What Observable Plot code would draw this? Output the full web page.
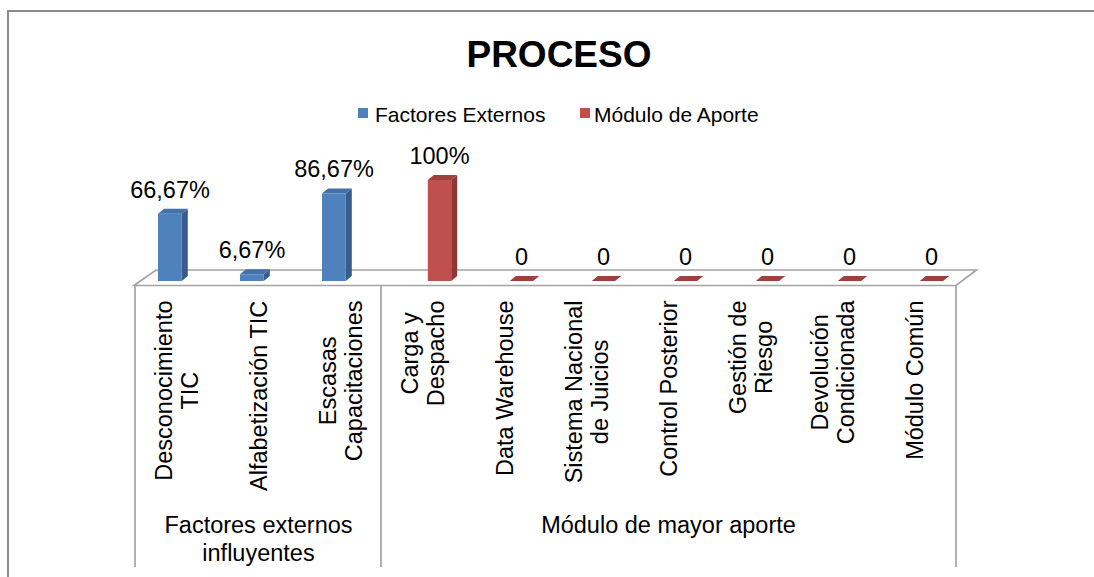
<!DOCTYPE html>
<html>
<head>
<meta charset="utf-8">
<script src="https://cdn.jsdelivr.net/npm/d3@7"></script>
<script src="https://cdn.jsdelivr.net/npm/@observablehq/plot@0.6"></script>
<style>
  body { margin: 0; background: #fff; }
  #wrap { position: relative; width: 1094px; height: 577px; overflow: hidden;
          font-family: "Liberation Sans", Arial, sans-serif; color: #000; background: #fff; }
  #border { position: absolute; left: 7px; top: 10px; right: -20px; bottom: -20px;
            border-left: 2px solid #8c8c8c; border-top: 2px solid #8c8c8c; }
  #title { position: absolute; top: 35.7px; left: 0; width: 1118px; text-align: center;
           font-weight: bold; font-size: 37px; line-height: 37px; white-space: nowrap; }
  .sw { position: absolute; top: 108px; width: 10px; height: 10px; }
  .lt { position: absolute; top: 103.7px; font-size: 21px; line-height: 21px; white-space: nowrap; }
  #chart { position: absolute; left: 0; top: 130px; }
  #chart svg { overflow: visible; }
</style>
</head>
<body>
<div id="wrap">
  <div id="border"></div>
  <div id="title"></div>
  <div id="legend"></div>
  <div id="chart"></div>
</div>
<script>
// ---- data ----
const titleText = "PROCESO";
const seriesNames = ["Factores Externos", "Módulo de Aporte"];
const categories = [
  "Desconocimiento\nTIC", "Alfabetización TIC", "Escasas\nCapacitaciones",
  "Carga y\nDespacho", "Data Warehouse", "Sistema Nacional\nde Juicios",
  "Control Posterior", "Gestión de\nRiesgo", "Devolución\nCondicionada", "Módulo Común"
];
const seriesOf = [0, 0, 0, 1, 1, 1, 1, 1, 1, 1];
const values = [66.67, 6.67, 86.67, 100, 0, 0, 0, 0, 0, 0];
const groupNames = ["Factores externos\ninfluyentes", "Módulo de mayor aporte"];
const groupOf = [0, 0, 0, 1, 1, 1, 1, 1, 1, 1];

// ---- styling ----
const FONT = "'Liberation Sans', Arial, sans-serif";
const FS = 23.5;
const palette = [
  {front: "#4F81BD", side: "#385D8A", top: "#4471A8"},
  {front: "#C0504D", side: "#8C3836", top: "#A0403D"}
];
const slot = [ {insetLeft: 23, insetRight: 35.2, dx: -6.5}, {insetLeft: 46.8, insetRight: 11.8, dx: 17} ];
const DX = 6, DY = 5;

// ---- title & legend ----
document.getElementById("title").textContent = titleText;
const legend = document.getElementById("legend");
const legendPos = [{sq: 358, tx: 375}, {sq: 580, tx: 594}];
seriesNames.forEach((s, k) => {
  const sw = document.createElement("div");
  sw.className = "sw"; sw.style.left = legendPos[k].sq + "px"; sw.style.background = palette[k].front;
  const t = document.createElement("div");
  t.className = "lt"; t.style.left = legendPos[k].tx + "px"; t.textContent = s;
  legend.append(sw, t);
});

// ---- rows ----
const rows = categories.map((c, i) => ({cat: c, series: seriesNames[seriesOf[i]], s: seriesOf[i], value: values[i]}));
const fmt = v => v === 0 ? "0" : (Number.isInteger(v) ? String(v) : v.toFixed(2).replace(".", ",")) + "%";

// text measurement
const ctx = document.createElement("canvas").getContext("2d");
ctx.font = `${FS}px 'Liberation Sans'`;
const maxW = s => Math.max(...s.split("\n").map(l => ctx.measureText(l).width));

// 3D side & top faces
function faces(data, k) {
  const {insetLeft, insetRight} = slot[k];
  const {side, top} = palette[k];
  return Plot.barY(data, {
    x: "cat", y: "value", insetLeft, insetRight, fill: side, dx: DX, dy: -DY,
    render(index, scales) {
      const {x, y} = scales;
      const bw = x.bandwidth();
      const g = d3.create("svg:g");
      for (const i of index) {
        const d = data[i];
        const x0 = x(d.cat) + insetLeft, x1 = x(d.cat) + bw - insetRight;
        const yb = y(0), yt = y(d.value);
        if (yb - yt > 0.5)
          g.append("path").attr("fill", side)
            .attr("d", `M${x1},${yt}L${x1 + DX},${yt - DY}L${x1 + DX},${yb - DY}L${x1},${yb}Z`);
        g.append("path").attr("fill", top)
          .attr("d", `M${x0},${yt}L${x0 + DX},${yt - DY}L${x1 + DX},${yt - DY}L${x1},${yt}Z`);
      }
      return g.node();
    }
  });
}

// floor & category frame
const boundaries = categories.filter((c, i) => i === 0 || groupOf[i] !== groupOf[i - 1]);
const frame = Plot.ruleY([0], {
  stroke: "#a3a3a3",
  render(index, scales, values, dims) {
    const {x, y} = scales;
    const [xl, xr] = x.range();
    const y0 = y(0);
    const g = d3.create("svg:g").attr("fill", "none").attr("stroke", "#a3a3a3").attr("stroke-width", 1.7);
    g.append("path").attr("d", `M${xl},${y0 + 4.5}L${xr},${y0 + 4.5}L${xr + 20.5},${y0 - 11}L${xl + 22},${y0 - 11}Z`);
    const bottom = dims.height - 10;
    const xs = boundaries.map(c => x(c)).concat([xr]);
    for (const xv of xs) g.append("line").attr("x1", xv).attr("x2", xv).attr("y1", y0 + 4.5).attr("y2", bottom);
    return g.node();
  }
});

const marks = [frame];
[0, 1].forEach(k => {
  const data = rows.filter(d => d.s === k);
  marks.push(faces(data, k));
  marks.push(Plot.barY(data, {x: "cat", y: "value", fill: palette[k].front,
    insetLeft: slot[k].insetLeft, insetRight: slot[k].insetRight}));
  marks.push(Plot.text(data, {x: "cat", y: "value", text: d => fmt(d.value), dx: slot[k].dx, dy: -16.5,
    lineAnchor: "bottom", fontSize: FS, fill: "#000"}));
});
// category labels (rotated, top-aligned blocks, centred lines)
categories.forEach(c => {
  marks.push(Plot.text([c], {x: d => d, y: 0, text: d => d, rotate: -90, textAnchor: "middle",
    lineAnchor: "middle", lineHeight: 1.1, fontSize: FS, fill: "#000", dy: 19 + maxW(c) / 2}));
});
// group labels
const groups = groupNames.map((g, j) => {
  const idx = groupOf.map((v, i) => v === j ? i : -1).filter(i => i >= 0);
  return {name: g, mid: categories[idx[(idx.length - 1) / 2 | 0]]};
});
marks.push(Plot.text(groups, {x: "mid", y: 0, text: "name", lineAnchor: "top", lineHeight: 1.19,
  fontSize: FS, fill: "#000", dy: 232}));

const chart = Plot.plot({
  width: 1094, height: 447,
  marginLeft: 134, marginRight: 138, marginTop: 50, marginBottom: 296,
  x: {type: "band", domain: categories, padding: 0, axis: null},
  y: {domain: [0, 100], axis: null},
  style: {fontFamily: FONT, background: "transparent", overflow: "visible"},
  marks
});
document.getElementById("chart").append(chart);
</script>
</body>
</html>
